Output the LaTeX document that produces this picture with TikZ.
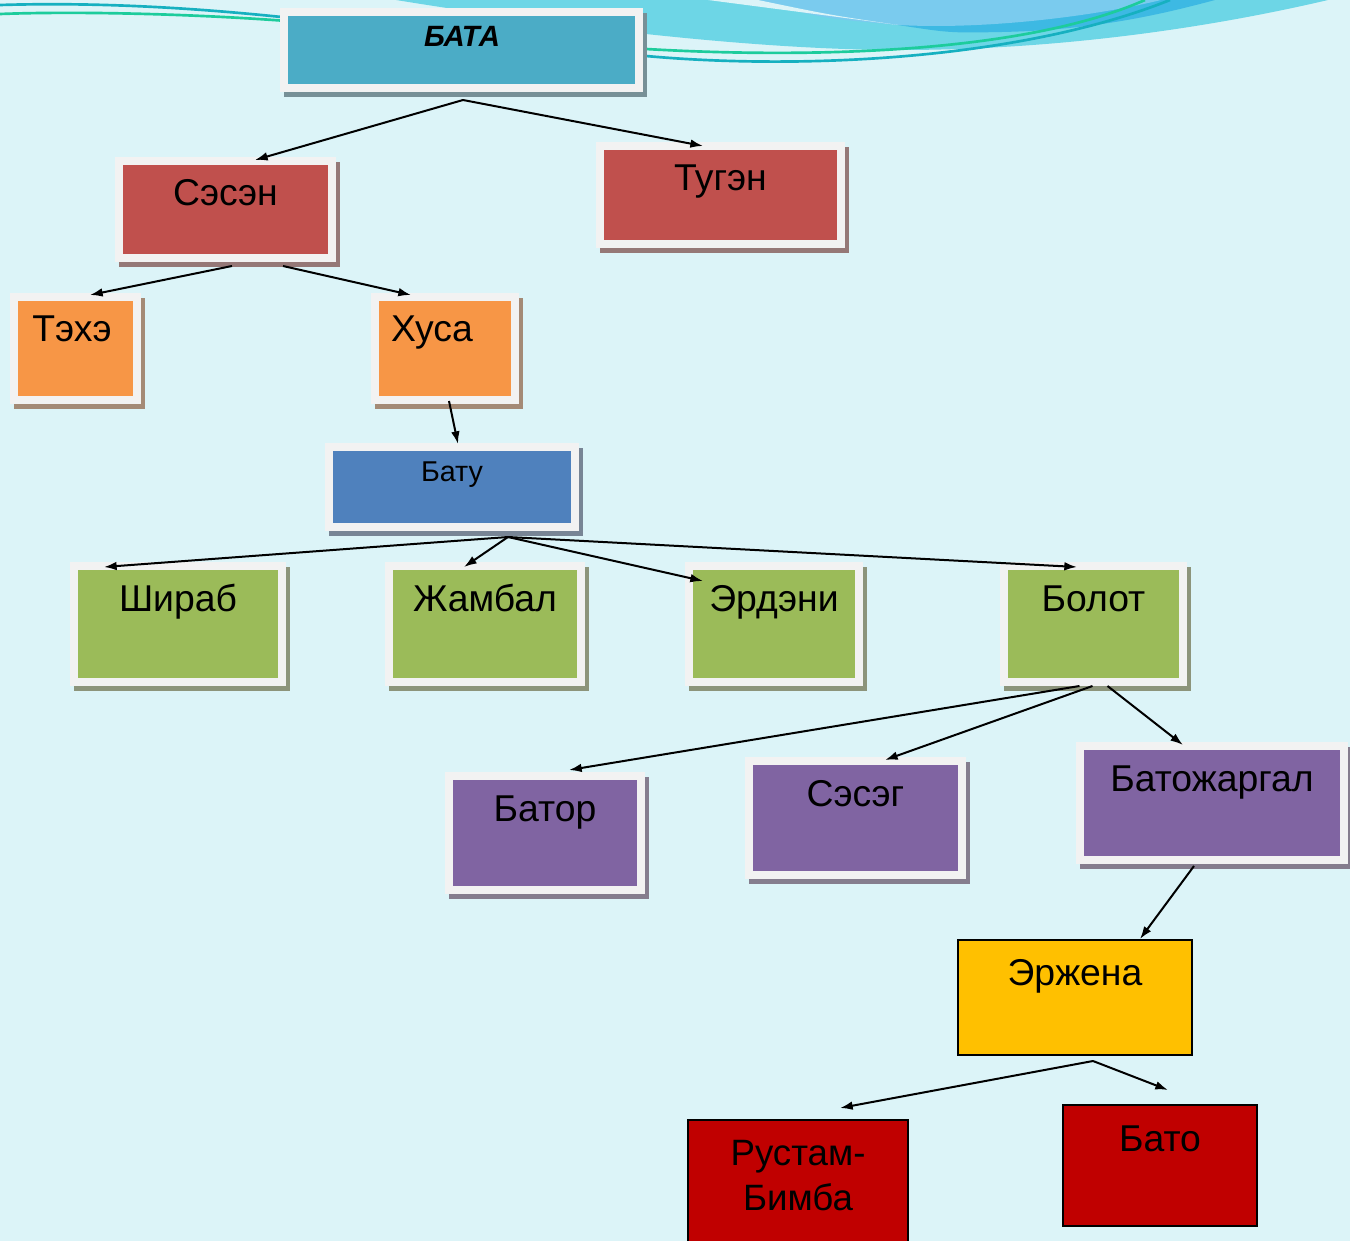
\documentclass[tikz,border=0pt]{standalone}
\usepackage{fontspec}
\setmainfont{Liberation Sans}
\usetikzlibrary{shadows,calc,arrows.meta}
\definecolor{bgc}{HTML}{DCF4F8}
\definecolor{framec}{HTML}{F2F2F2}
\definecolor{bandc}{HTML}{6DD6E6}
\definecolor{blobc}{HTML}{7ACBEE}
\definecolor{deepc}{HTML}{3DB9E3}
\definecolor{tealc}{HTML}{16B0C0}
\definecolor{greenl}{HTML}{1DCC9C}
\definecolor{cbata}{HTML}{4BACC6}
\definecolor{cred}{HTML}{C0504D}
\definecolor{corange}{HTML}{F79646}
\definecolor{cblue}{HTML}{4F81BD}
\definecolor{cgreen}{HTML}{9BBB59}
\definecolor{cpurple}{HTML}{8064A2}
\definecolor{cyellow}{HTML}{FFC000}
\definecolor{cdark}{HTML}{C00000}
\tikzset{
  sz/.style 2 args={minimum width=#1*0.75pt-6pt, minimum height=#2*0.75pt-6pt},
  fbox/.style={rectangle, draw=framec, line width=6pt, fill=#1, inner sep=0pt, outer sep=0pt,
    drop shadow={shadow xshift=2.7pt, shadow yshift=-3.75pt,
      fill=#1!40!white!65!black, draw=#1!40!white!65!black, opacity=1}},
  pbox/.style={rectangle, draw=black, line width=1.5pt, fill=#1, inner sep=0pt, outer sep=0pt},
  psz/.style 2 args={minimum width=#1*0.75pt, minimum height=#2*0.75pt},
  lbl/.style={anchor=base, inner sep=0pt, font=\fontsize{28}{34}\selectfont},
  arr/.style={line width=1.5pt, -{Latex[length=9.5pt,width=6.5pt]}},
}
\begin{document}
\begin{tikzpicture}[x=0.75pt,y=-0.75pt]
\useasboundingbox (0,0) rectangle (1350,1241);
\clip (0,0) rectangle (1350,1241);
\fill[bgc] (0,0) rectangle (1350,1241);
% decorative waves
\fill[bandc] (396,0) .. controls (550,25) and (750,50) .. (900,50)
  .. controls (1050,50) and (1200,30) .. (1328,0) -- cycle;
\fill[deepc] (898,25) .. controls (950,33) .. (1002,32)
  .. controls (1100,30) and (1170,12) .. (1215,0) -- (1161,0) -- cycle;
\fill[blobc] (758,0) .. controls (820,18) .. (898,25)
  .. controls (990,30) and (1100,15) .. (1161,0) -- cycle;
\fill[bgc] (708,0) .. controls (800,12) .. (898,25) .. controls (830,15) .. (758,0) -- cycle;
\draw[tealc, line width=2pt] (0,5) .. controls (100,2) and (200,8) .. (300,19) -- (646,56)
  .. controls (800,70) and (1020,60) .. (1170,0);
\draw[greenl, line width=2pt] (0,14) .. controls (80,11) and (200,14) .. (300,22) -- (646,49)
  .. controls (800,58) and (1020,55) .. (1145,0);
% boxes
\node[fbox=cbata, sz={363}{84}] (bata) at (461.5,50) {};
\node[fbox=cred, sz={221}{105}] (sesen) at (225.5,209.5) {};
\node[fbox=cred, sz={249}{106}] (tugen) at (720.5,195) {};
\node[fbox=corange, sz={131}{111}] (tehe) at (75.5,348.5) {};
\node[fbox=corange, sz={148}{111}] (xusa) at (445,348.5) {};
\node[fbox=cblue, sz={254}{88}] (batu) at (452,487) {};
\node[fbox=cgreen, sz={216}{124}] (shirab) at (178,624) {};
\node[fbox=cgreen, sz={200}{124}] (zhambal) at (485,624) {};
\node[fbox=cgreen, sz={178}{124}] (erdeni) at (774,624) {};
\node[fbox=cgreen, sz={187}{124}] (bolot) at (1093.5,624) {};
\node[fbox=cpurple, sz={200}{122}] (bator) at (545,833) {};
\node[fbox=cpurple, sz={221}{122}] (seseg) at (855.5,818) {};
\node[fbox=cpurple, sz={272}{122}] (batozh) at (1212,803) {};
\node[pbox=cyellow, psz={234}{115}] (erzhena) at (1075,997.5) {};
\node[pbox=cdark, psz={220}{125}] (rustam) at (798,1182.5) {};
\node[pbox=cdark, psz={194}{121}] (bato) at (1160,1165.5) {};
% labels
\node[lbl, font=\fontsize{22}{26}\selectfont\bfseries\itshape] (t-bata) at ($(bata.north)+(0.5,35)$) {БАТА};
\node[lbl] (t-sesen) at ($(sesen.north)+(0,45)$) {Сэсэн};
\node[lbl] (t-tugen) at ($(tugen.north)+(0,45)$) {Тугэн};
\node[lbl] (t-tehe) at ($(tehe.north)+(-3.5,45)$) {Тэхэ};
\node[lbl] (t-xusa) at ($(xusa.north)+(-13,45)$) {Хуса};
\node[lbl, font=\fontsize{21.5}{26}\selectfont] (t-batu) at ($(batu.north)+(0,34)$) {Бату};
\node[lbl] (t-shirab) at ($(shirab.north)+(0,45)$) {Шираб};
\node[lbl] (t-zhambal) at ($(zhambal.north)+(0,45)$) {Жамбал};
\node[lbl] (t-erdeni) at ($(erdeni.north)+(0,45)$) {Эрдэни};
\node[lbl] (t-bolot) at ($(bolot.north)+(0,45)$) {Болот};
\node[lbl] (t-bator) at ($(bator.north)+(0,45)$) {Батор};
\node[lbl] (t-seseg) at ($(seseg.north)+(0,45)$) {Сэсэг};
\node[lbl] (t-batozh) at ($(batozh.north)+(0,45)$) {Батожаргал};
\node[lbl] (t-erzhena) at ($(erzhena.north)+(0,45.5)$) {Эржена};
\node[inner sep=0pt, anchor=center, align=center, font=\fontsize{27.5}{33.75}\selectfont] (t-rustam) at ($(rustam.north)+(0,56)$) {Рустам-\\Бимба};
\node[lbl] (t-bato) at ($(bato.north)+(0,46)$) {Бато};
% connectors
\draw[arr] ($(bata.south)+(1.5,12)$) -- ($(sesen.north)+(29.5,-1)$);
\draw[arr] ($(bata.south)+(1.5,12)$) -- ($(tugen.north)+(-17.5,0)$);
\draw[arr] ($(sesen.south)+(6.5,8)$) -- ($(tehe.north)+(14.5,-2)$);
\draw[arr] ($(sesen.south)+(57.5,8)$) -- ($(xusa.north)+(-34,-2)$);
\draw[arr] ($(xusa.south)+(4,1)$) -- ($(batu.north)+(6,-3)$);
\draw[arr] ($(batu.south)+(56,10)$) -- ($(shirab.north)+(-74,1)$);
\draw[arr] ($(batu.south)+(56,10)$) -- ($(zhambal.north)+(-21,1)$);
\draw[arr] ($(batu.south)+(56,10)$) -- ($(erdeni.north)+(-71,15)$);
\draw[arr] ($(batu.south)+(56,10)$) -- ($(bolot.north)+(-16.5,1)$);
\draw[arr] ($(bolot.south)+(-14,4)$) -- ($(bator.north)+(24,-6)$);
\draw[arr] ($(bolot.south)+(-1,4)$) -- ($(seseg.north)+(29.5,-1)$);
\draw[arr] ($(bolot.south)+(14,4)$) -- ($(batozh.north)+(-29,-1)$);
\draw[arr] ($(batozh.south)+(-18,6)$) -- ($(erzhena.north)+(65,-1)$);
\draw[arr] ($(erzhena.south)+(18,6)$) -- ($(rustam.north)+(42,-12)$);
\draw[arr] ($(erzhena.south)+(18,6)$) -- ($(bato.north)+(8,-15)$);
\end{tikzpicture}
\end{document}
